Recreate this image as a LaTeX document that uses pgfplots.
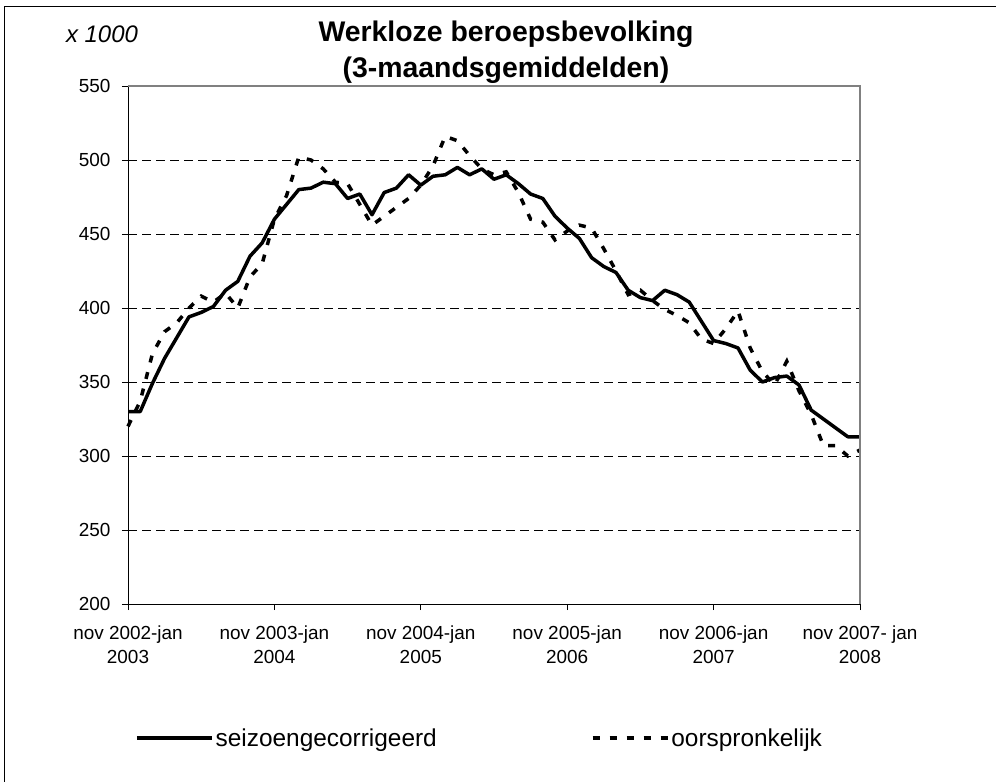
\documentclass[border=0pt]{standalone}
\usepackage{fontspec}
\setmainfont{Liberation Sans}
\usepackage{pgfplots}
\pgfplotsset{compat=1.18}
\usepackage{pgfplotstable}
\pgfplotstableread{
idx s o
0 330 320
1 330 337
2 349 369
3 366 384
4 380 390
5 394 400
6 397 408
7 401 404
8 412 410
9 418 400
10 435 421
11 444 430
12 460 460
13 470 476
14 480 502
15 481 500
16 485 494
17 484 485
18 474 484
19 477 470
20 463 456
21 478 462
22 481 468
23 490 474
24 483 483
25 489 496
26 490 516
27 495 513
28 490 503
29 494 494
30 487 490
31 490 492
32 484 478
33 477 460
34 474 458
35 462 446
36 454 452
37 447 456
38 434 454
39 428 440
40 424 425
41 412 409
42 407 412
43 405 405
44 412 399
45 409 395
46 404 390
47 391 379
48 378 376
49 376 386
50 373 398
51 358 373
52 350 357
53 353 348
54 354 364
55 348 344
56 331 328
57 325 307
58 319 307
59 313 300
60 313 304
}\datatable
\begin{document}
\begin{tikzpicture}
\useasboundingbox (0,0) rectangle (996bp,782bp);
\draw[line width=1bp] (4.5bp,0) -- (4.5bp,775.5bp) -- (996bp,775.5bp);
\node[font=\fontsize{28.5}{30}\selectfont\bfseries] at (506bp,748bp) {Werkloze beroepsbevolking};
\node[font=\fontsize{28.5}{30}\selectfont\bfseries] at (506bp,712bp) {(3-maandsgemiddelden)};
\node[font=\fontsize{24}{26}\selectfont\itshape] at (102bp,748bp) {x 1000};
\begin{axis}[
  at={(128bp,178bp)}, anchor=south west,
  scale only axis, width=732bp, height=518bp,
  xmin=0, xmax=60, ymin=200, ymax=550,
  axis x line*=bottom, axis y line*=left,
  axis line style={black, line width=1bp},
  xtick={0,12,24,36,48,60},
  xticklabels={nov 2002-jan\\2003, nov 2003-jan\\2004, nov 2004-jan\\2005, nov 2005-jan\\2006, nov 2006-jan\\2007, nov 2007- jan\\2008},
  xticklabel style={align=center, font=\fontsize{19}{24}\selectfont, yshift=-12bp},
  ytick={200,250,...,550},
  yticklabel style={font=\fontsize{19}{22}\selectfont, xshift=-8bp},
  /pgf/number format/assume math mode=true,
  tick align=outside, major tick length=6bp,
  tick style={black, line width=0.8bp},
  ymajorgrids,
  major grid style={black, line width=0.8bp, dash pattern=on 9bp off 5bp},
  legend style={at={(axis description cs:0,0)}, anchor=west, xshift=7bp, yshift=-134bp,
     draw=none, fill=none, inner sep=0pt, legend columns=2,
     font=\fontsize{24.5}{26}\selectfont,
     nodes={inner sep=2bp},
     /tikz/every even column/.append style={column sep=152bp}},
  legend image code/.code={\draw[#1] (0bp,0bp) -- (75bp,0bp);},
  clip=false,
]
\addplot[black, line width=3.5bp, line join=round] table[x=idx, y=s] {\datatable};
\addlegendentry{seizoengecorrigeerd}
\addplot[black, line width=3.5bp, dash pattern=on 7bp off 10bp] table[x=idx, y=o] {\datatable};
\addlegendentry{oorspronkelijk}
\draw[gray, line width=1.2bp] (rel axis cs:0,1) -- (rel axis cs:1,1) -- (rel axis cs:1,0);
\end{axis}
\end{tikzpicture}
\end{document}
